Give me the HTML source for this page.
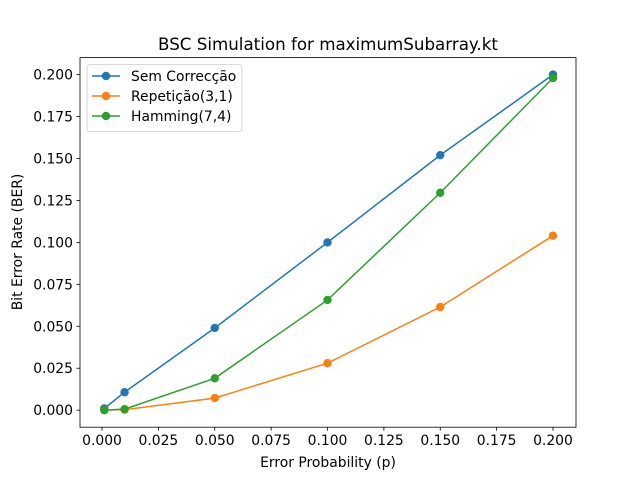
<!DOCTYPE html>
<html><head><meta charset="utf-8"><style>
body{margin:0;background:#fff;font-family:"DejaVu Sans","Liberation Sans",sans-serif;}
</style></head><body>
<svg id="chart" width="640" height="480" xmlns="http://www.w3.org/2000/svg">
<rect width="640" height="480" fill="#fff"/>
<text x="328" y="50" text-anchor="middle" font-size="16.7">BSC Simulation for maximumSubarray.kt</text>
<text x="328" y="467" text-anchor="middle" font-size="13.9">Error Probability (p)</text>
<text transform="translate(22,242) rotate(-90)" text-anchor="middle" font-size="13.9">Bit Error Rate (BER)</text>
<g id="ticks"></g>
<g id="series"></g>
<rect x="80" y="57.6" width="496" height="369.6" fill="none" stroke="#000" stroke-width="0.8"/>
<g id="legend"></g>
</svg>
<script>
const xValues=[0.001,0.01,0.05,0.1,0.15,0.2];
const semCorrecao=[0.001,0.0107,0.049,0.1,0.152,0.2];
const repeticao=[0.0,0.0003,0.0072,0.028,0.0615,0.104];
const hamming=[0.0,0.0006,0.019,0.0657,0.1296,0.198];
const seriesNames=["Sem Correcção","Repetição(3,1)","Hamming(7,4)"];
const xTicks=[0,0.025,0.05,0.075,0.1,0.125,0.15,0.175,0.2];
const yTicks=[0,0.025,0.05,0.075,0.1,0.125,0.15,0.175,0.2];
const colors=["#1f77b4","#ff7f0e","#2ca02c"];
const NS="http://www.w3.org/2000/svg";
const L=80,R=576,T=57.6,B=427.2;
const xmin=-0.00976,xmax=0.2102,ymin=-0.01015,ymax=0.21015;
const sx=v=>L+(v-xmin)/(xmax-xmin)*(R-L);
const sy=v=>B-(v-ymin)/(ymax-ymin)*(B-T);
function mk(tag,attrs,parent){const e=document.createElementNS(NS,tag);for(const k in attrs)e.setAttribute(k,attrs[k]);parent.appendChild(e);return e;}
const tg=document.getElementById('ticks');
xTicks.forEach(t=>{const x=sx(t);
const l=mk('line',{x1:x,x2:x,y1:B,y2:B+3.5,stroke:'#000','stroke-width':0.8},tg);


const tx=mk('text',{x:x,y:B+18,'text-anchor':'middle','font-size':13.9},tg);tx.textContent=t.toFixed(3);

});
yTicks.forEach(t=>{const y=sy(t);
const l=mk('line',{x1:L-3.5,x2:L,y1:y,y2:y,stroke:'#000','stroke-width':0.8},tg);


const tx=mk('text',{x:L-7,y:y+5,'text-anchor':'end','font-size':13.9},tg);tx.textContent=t.toFixed(3);

});
const sg=document.getElementById('series');
[semCorrecao,repeticao,hamming].forEach((vals,i)=>{
const g=mk('g',{},sg);


const p=mk('polyline',{points:vals.map((v,j)=>sx(xValues[j])+','+sy(v)).join(' '),fill:'none',stroke:colors[i],'stroke-width':1.5},g);


vals.forEach((v,j)=>{const c=mk('circle',{cx:sx(xValues[j]),cy:sy(v),r:4.2,fill:colors[i]},g);

});
});
const lg=document.getElementById('legend');
const box=mk('rect',{x:87,y:64.6,width:155,height:67,rx:3,fill:'#fff','fill-opacity':0.8,stroke:'#ccc','stroke-width':0.8},lg);


seriesNames.forEach((n,i)=>{const y=76+i*20;
const g=mk('g',{},lg);


mk('line',{x1:92,x2:120,y1:y,y2:y,stroke:colors[i],'stroke-width':1.5},g);
mk('circle',{cx:106,cy:y,r:4.2,fill:colors[i]},g);
const t=mk('text',{x:131,y:y+5,'font-size':13.9},g);t.textContent=n;});
</script>
</body></html>
